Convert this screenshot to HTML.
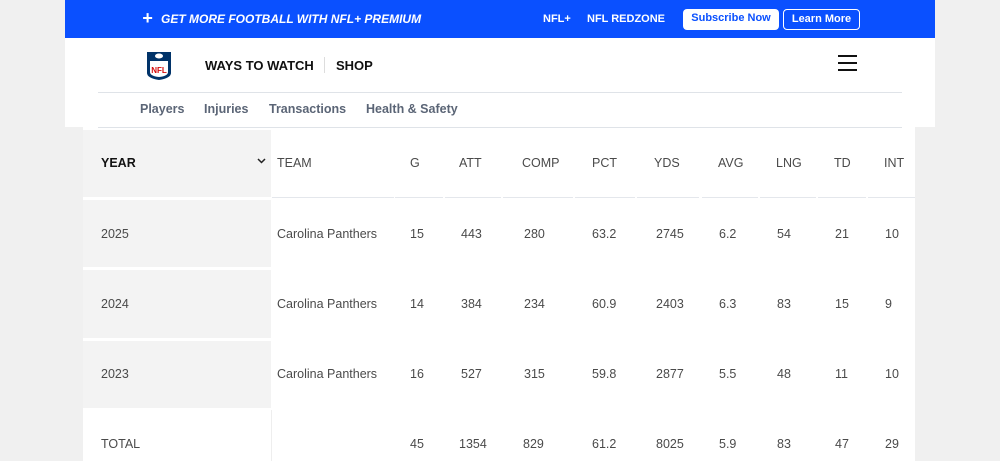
<!DOCTYPE html>
<html><head><style>
*{margin:0;padding:0;box-sizing:border-box}
body{width:1000px;height:461px;background:#f0f0f0;position:relative;overflow:hidden;font-family:"Liberation Sans",sans-serif}
.a{position:absolute;white-space:nowrap}
.bar{left:65px;top:0;width:870px;height:38px;background:#0a50ff}
.hdr{left:65px;top:38px;width:870px;height:89px;background:#fff}
.w{color:#fff;font-weight:bold;font-style:italic;font-size:12px}
.btn{border-radius:4px;font-size:11px;font-weight:bold;height:21px;line-height:19px;text-align:center}
.tbl{left:83px;top:127px;width:832px;height:334px;background:#fff}
.yc{background:#f3f3f3;left:83px;width:188px}
.t{font-size:12.5px;color:#4a4a4a}
.hl{height:1px;background:#e4e7ec;top:197px}
.nav{font-size:12.5px;font-weight:bold;color:#5b6576;top:102px}
</style></head><body>
<div class="a bar"></div>
<div class="a w" style="left:142px;top:11px;font-size:18px;line-height:14px">+</div>
<div class="a w" style="left:161px;top:12px">GET MORE FOOTBALL WITH NFL+ PREMIUM</div>
<div class="a w" style="left:543px;top:13px;font-style:normal;font-size:11px">NFL+</div>
<div class="a w" style="left:587px;top:13px;font-style:normal;font-size:11px">NFL REDZONE</div>
<div class="a btn" style="left:683px;top:9px;width:96px;background:#fff;color:#0a50ff">Subscribe Now</div>
<div class="a btn" style="left:783px;top:9px;width:77px;border:1px solid #fff;color:#fff">Learn More</div>
<div class="a hdr"></div>
<svg class="a" style="left:146px;top:49px" width="26" height="32" viewBox="0 0 26 32"><path d="M1 3 L25 3 L25 24 Q25 29 13 31 Q1 29 1 24Z" fill="#013369"/><path d="M4 12 L22 12 L22 23 Q22 27 13 28 Q4 27 4 23Z" fill="#fff"/><text x="13" y="24" font-size="8" font-weight="bold" fill="#d50a0a" text-anchor="middle" font-family="Liberation Sans">NFL</text><ellipse cx="13" cy="7" rx="4" ry="2.5" fill="#fff"/></svg>
<div class="a" style="left:205px;top:58px;font-size:13px;font-weight:bold;color:#111">WAYS TO WATCH</div>
<div class="a" style="left:324px;top:57px;width:1px;height:16px;background:#ddd"></div>
<div class="a" style="left:336px;top:58px;font-size:13px;font-weight:bold;color:#111">SHOP</div>
<div class="a" style="left:838px;top:55px;width:19px;height:2px;background:#111"></div>
<div class="a" style="left:838px;top:62px;width:19px;height:2px;background:#111"></div>
<div class="a" style="left:838px;top:69px;width:19px;height:2px;background:#111"></div>
<div class="a" style="left:98px;top:92px;width:804px;height:1px;background:#dfe3e8"></div>
<div class="a nav" style="left:140px">Players</div>
<div class="a nav" style="left:204px">Injuries</div>
<div class="a nav" style="left:269px">Transactions</div>
<div class="a nav" style="left:366px">Health &amp; Safety</div>
<div class="a tbl"></div>
<div class="a" style="left:98px;top:127px;width:804px;height:1px;background:#dfe3e8"></div>
<div class="a yc" style="top:130px;height:67px"></div>
<div class="a yc" style="top:200px;height:67px"></div>
<div class="a yc" style="top:270px;height:68px"></div>
<div class="a yc" style="top:341px;height:67px"></div>
<div class="a" style="left:271px;top:410px;width:1px;height:51px;background:#eee"></div>
<div class="a hl" style="left:272px;width:122px"></div>
<div class="a hl" style="left:395px;width:48px"></div>
<div class="a hl" style="left:445px;width:56px"></div>
<div class="a hl" style="left:503px;width:70px"></div>
<div class="a hl" style="left:575px;width:60px"></div>
<div class="a hl" style="left:637px;width:62px"></div>
<div class="a hl" style="left:702px;width:56px"></div>
<div class="a hl" style="left:760px;width:56px"></div>
<div class="a hl" style="left:818px;width:48px"></div>
<div class="a hl" style="left:868px;width:47px"></div>
<div class="a" style="left:101px;top:156px;font-size:12.5px;font-weight:bold;color:#111">YEAR</div>
<svg class="a" style="left:257px;top:158px" width="9" height="6" viewBox="0 0 9 6"><path d="M1 1 L4.5 4.5 L8 1" stroke="#222" stroke-width="1.5" fill="none"/></svg>
<div class="a t" style="left:277px;top:156px">TEAM</div>
<div class="a t" style="left:410px;top:156px">G</div>
<div class="a t" style="left:459px;top:156px">ATT</div>
<div class="a t" style="left:522px;top:156px">COMP</div>
<div class="a t" style="left:592px;top:156px">PCT</div>
<div class="a t" style="left:654px;top:156px">YDS</div>
<div class="a t" style="left:718px;top:156px">AVG</div>
<div class="a t" style="left:776px;top:156px">LNG</div>
<div class="a t" style="left:834px;top:156px">TD</div>
<div class="a t" style="left:884px;top:156px">INT</div>

<div class="a t" style="left:101px;top:227px">2025</div><div class="a t" style="left:277px;top:227px">Carolina Panthers</div>
<div class="a t" style="left:410px;top:227px">15</div><div class="a t" style="left:461px;top:227px">443</div><div class="a t" style="left:524px;top:227px">280</div><div class="a t" style="left:592px;top:227px">63.2</div><div class="a t" style="left:656px;top:227px">2745</div><div class="a t" style="left:719px;top:227px">6.2</div><div class="a t" style="left:777px;top:227px">54</div><div class="a t" style="left:835px;top:227px">21</div><div class="a t" style="left:885px;top:227px">10</div>

<div class="a t" style="left:101px;top:297px">2024</div><div class="a t" style="left:277px;top:297px">Carolina Panthers</div>
<div class="a t" style="left:410px;top:297px">14</div><div class="a t" style="left:461px;top:297px">384</div><div class="a t" style="left:524px;top:297px">234</div><div class="a t" style="left:592px;top:297px">60.9</div><div class="a t" style="left:656px;top:297px">2403</div><div class="a t" style="left:719px;top:297px">6.3</div><div class="a t" style="left:777px;top:297px">83</div><div class="a t" style="left:835px;top:297px">15</div><div class="a t" style="left:885px;top:297px">9</div>

<div class="a t" style="left:101px;top:367px">2023</div><div class="a t" style="left:277px;top:367px">Carolina Panthers</div>
<div class="a t" style="left:410px;top:367px">16</div><div class="a t" style="left:461px;top:367px">527</div><div class="a t" style="left:524px;top:367px">315</div><div class="a t" style="left:592px;top:367px">59.8</div><div class="a t" style="left:656px;top:367px">2877</div><div class="a t" style="left:719px;top:367px">5.5</div><div class="a t" style="left:777px;top:367px">48</div><div class="a t" style="left:835px;top:367px">11</div><div class="a t" style="left:885px;top:367px">10</div>

<div class="a t" style="left:101px;top:437px">TOTAL</div>
<div class="a t" style="left:410px;top:437px">45</div><div class="a t" style="left:459px;top:437px">1354</div><div class="a t" style="left:523px;top:437px">829</div><div class="a t" style="left:592px;top:437px">61.2</div><div class="a t" style="left:656px;top:437px">8025</div><div class="a t" style="left:719px;top:437px">5.9</div><div class="a t" style="left:777px;top:437px">83</div><div class="a t" style="left:835px;top:437px">47</div><div class="a t" style="left:885px;top:437px">29</div>
</body></html>
